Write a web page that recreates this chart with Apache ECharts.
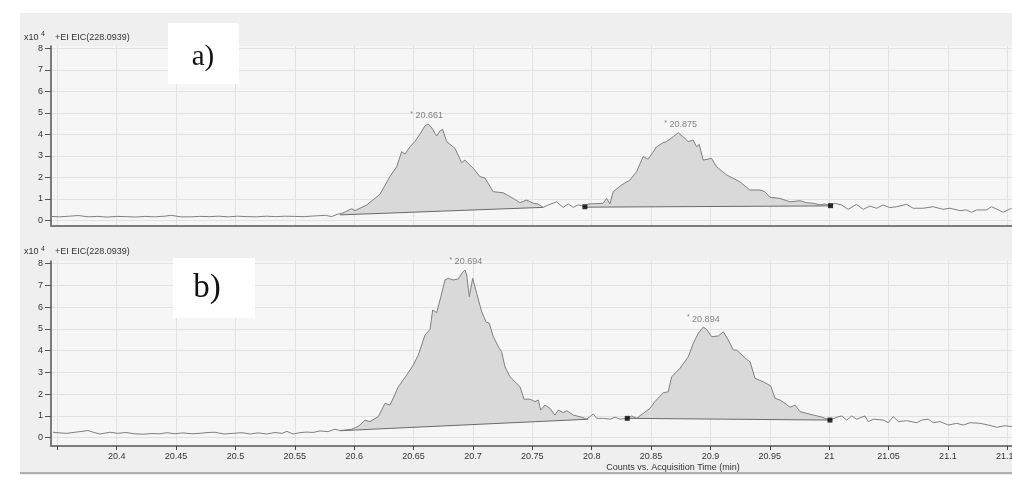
<!DOCTYPE html>
<html><head><meta charset="utf-8">
<script src="https://cdn.jsdelivr.net/npm/echarts@6/dist/echarts.min.js"></script>
<style>html,body{margin:0;padding:0;background:#fff;overflow:hidden}#c{width:1040px;height:481px}</style>
</head><body><div id="c"></div>
<script>
// ---------- data (counts in units of 10^4) ----------
const timesA = [
20.345,20.352,20.360,20.368,20.376,20.384,20.392,20.400,20.408,20.416,
20.424,20.432,20.440,20.446,20.454,20.462,20.470,20.478,20.486,20.494,
20.502,20.510,20.518,20.526,20.534,20.542,20.550,20.558,20.566,20.576,
20.581,20.586,
20.5906,20.5979,20.6007,20.6105,20.6217,20.6301,20.6358,20.6400,20.6428,20.6470,
20.6512,20.6554,20.6596,20.6624,20.6655,20.6694,20.6722,20.6745,20.6779,20.6849,
20.6905,20.6933,20.7003,20.7059,20.7101,20.7171,20.7255,20.7339,20.7396,20.7452,
20.7508,20.7547,20.7592,20.7634,20.7705,20.7760,20.7803,20.7845,20.7887,20.7943,
20.7971,20.8097,20.8126,20.8154,20.8181,20.8252,20.8322,20.8378,20.8434,20.8476,
20.8547,20.8602,20.8631,20.8687,20.8729,20.8785,20.8813,20.8855,20.8884,20.8906,
20.8939,20.9010,20.9052,20.9136,20.9248,20.9332,20.9417,20.9459,20.9501,20.9585,
20.9669,20.9754,20.9810,20.9866,20.9922,20.9964,21.0012,21.0048,21.0105,21.0160,
21.0231,21.0287,21.0343,21.0399,21.0455,21.0511,21.0568,21.0652,21.0708,21.0792,
21.0876,21.0961,21.1017,21.1101,21.1157,21.1199,21.1241,21.1326,21.1368,21.1438,
21.1465,21.1536];
const countsA = [
0.19,0.17,0.20,0.23,0.17,0.19,0.16,0.19,0.18,0.16,
0.19,0.17,0.20,0.24,0.17,0.17,0.19,0.18,0.20,0.17,
0.20,0.18,0.17,0.20,0.18,0.20,0.19,0.18,0.21,0.24,
0.18,0.29,
0.35,0.55,0.46,0.72,1.22,2.04,2.50,3.20,3.09,3.43,
3.67,4.02,4.40,4.49,4.30,3.93,4.16,4.24,3.67,3.36,
2.69,2.81,2.43,2.04,1.98,1.34,1.29,1.03,0.83,0.95,
0.80,0.77,0.61,0.72,0.87,0.61,0.77,0.61,0.73,0.64,
0.77,0.80,1.03,0.77,1.34,1.65,1.88,2.27,2.97,2.85,
3.43,3.62,3.67,3.90,4.08,3.82,3.67,3.74,3.43,3.54,
2.81,2.89,2.50,2.12,1.80,1.42,1.42,1.34,1.08,1.03,
0.87,0.92,0.83,0.80,0.73,0.77,0.69,0.80,0.72,0.52,
0.75,0.52,0.67,0.57,0.72,0.60,0.64,0.75,0.57,0.57,
0.64,0.52,0.57,0.46,0.49,0.38,0.49,0.49,0.64,0.46,
0.38,0.57];

const timesB = [
20.3464,20.3522,20.3581,20.3649,20.3708,20.3758,20.3809,20.3859,20.3944,20.4011,
20.4078,20.4146,20.4221,20.4297,20.4365,20.4424,20.4491,20.4558,20.4634,20.4702,
20.4769,20.4828,20.4904,20.4980,20.5055,20.5123,20.5190,20.5266,20.5333,20.5392,
20.5434,20.5485,20.5544,20.5603,20.5653,20.5712,20.5779,20.5838,20.5880,20.5922,
20.5979,20.6015,20.6049,20.6091,20.6133,20.6203,20.6260,20.6302,20.6372,20.6442,
20.6498,20.6540,20.6597,20.6639,20.6661,20.6695,20.6723,20.6765,20.6793,20.6835,
20.6877,20.6906,20.6933,20.6948,20.6970,20.6998,20.7032,20.7074,20.7110,20.7138,
20.7172,20.7222,20.7242,20.7270,20.7312,20.7397,20.7431,20.7481,20.7523,20.7551,
20.7571,20.7607,20.7649,20.7691,20.7719,20.7761,20.7790,20.7846,20.7916,20.7958,
20.8014,20.8043,20.8098,20.8155,20.8197,20.8239,20.8300,20.8337,20.8379,20.8435,
20.8491,20.8533,20.8603,20.8645,20.8674,20.8744,20.8814,20.8856,20.8898,20.8940,
20.8968,20.9011,20.9067,20.9109,20.9151,20.9193,20.9222,20.9250,20.9306,20.9334,
20.9376,20.9446,20.9508,20.9544,20.9586,20.9629,20.9671,20.9713,20.9755,20.9811,
20.9867,20.9923,20.9965,21.0007,21.0064,21.0106,21.0148,21.0190,21.0232,21.0302,
21.0330,21.0372,21.0456,21.0498,21.0540,21.0583,21.0653,21.0738,21.0780,21.0835,
21.0878,21.0934,21.1004,21.1074,21.1130,21.1187,21.1271,21.1341,21.1412,21.1481,
21.1540];
const countsB = [
0.25,0.22,0.20,0.25,0.29,0.33,0.24,0.17,0.25,0.20,
0.24,0.18,0.16,0.19,0.18,0.23,0.18,0.22,0.18,0.20,
0.24,0.25,0.17,0.20,0.23,0.17,0.22,0.17,0.24,0.20,
0.29,0.17,0.23,0.26,0.24,0.31,0.28,0.39,0.33,0.35,
0.39,0.47,0.58,0.81,0.74,0.97,1.58,1.50,2.34,2.88,
3.34,3.80,4.72,4.98,5.87,5.75,6.33,7.25,7.33,7.25,
7.30,7.56,7.71,7.48,6.48,7.33,6.64,5.79,5.33,5.26,
4.64,4.11,3.95,3.26,2.80,2.34,1.77,1.77,1.66,1.73,
1.27,1.50,1.35,1.04,1.27,1.15,1.24,1.04,0.94,0.85,
1.09,0.89,0.89,0.85,0.94,0.85,0.89,1.00,0.89,1.12,
1.35,1.66,2.07,2.11,2.80,3.19,3.72,4.34,4.80,5.08,
4.98,4.64,4.68,4.87,4.49,4.03,4.03,3.88,3.60,3.49,
2.73,2.57,2.38,1.81,1.73,1.58,1.40,1.50,1.20,1.12,
1.04,0.97,0.89,0.81,0.94,1.00,0.81,1.00,0.85,1.00,
0.74,0.85,0.81,0.69,0.97,0.74,0.78,0.69,0.81,0.85,
0.69,0.74,0.58,0.66,0.58,0.69,0.66,0.58,0.48,0.55,
0.51];

// integration regions: [startTime, startBaseline, endTime, endBaseline]
const integA = [[20.588, 0.26, 20.7592, 0.61], [20.7943, 0.62, 21.0012, 0.68]];
const integB = [[20.588, 0.32, 20.7972, 0.85], [20.8300, 0.89, 21.0007, 0.81]];
// integration end markers
const markersA = [[20.7943, 0.64], [21.0012, 0.69]];
const markersB = [[20.8300, 0.89], [21.0007, 0.81]];
// labelled peak apexes: retention time, height
const peakTimesA = [20.661, 20.875];
const peakHeightsA = [4.49, 4.08];
const peakTimesB = [20.694, 20.894];
const peakHeightsB = [7.71, 5.08];

// axis ticks
const xTickValues = [20.35,20.4,20.45,20.5,20.55,20.6,20.65,20.7,20.75,20.8,20.85,20.9,20.95,21,21.05,21.1,21.15];
const xLabelValues = [20.4,20.45,20.5,20.55,20.6,20.65,20.7,20.75,20.8,20.85,20.9,20.95,21,21.05,21.1,21.15];
const yTickValues = [0,1,2,3,4,5,6,7,8];
const headerText = '+EI EIC(228.0939)';
const xAxisTitle = 'Counts vs. Acquisition Time (min)';

// ---------- chart ----------
const FONT = 'Liberation Sans';
const xMin = 20.3447, xMax = 21.154;
const pairs = (ts, vs) => ts.map((t, i) => [t, vs[i]]);

function makeFill(ts, vs) {
  return function (params, api) {
    const s = api.value(0), sv = api.value(1), e = api.value(2), ev = api.value(3);
    const pts = [api.coord([s, sv])];
    ts.forEach((t, i) => { if (t >= s && t <= e) pts.push(api.coord([t, vs[i]])); });
    pts.push(api.coord([e, ev]));
    const a = pts[0], b = pts[pts.length - 1];
    return {type: 'group', children: [
      {type: 'polygon', shape: {points: pts}, style: {fill: '#d9d9d9', stroke: null}},
      {type: 'line', shape: {x1: a[0], y1: a[1], x2: b[0], y2: b[1]}, style: {stroke: '#6a6a6a', lineWidth: 1}}
    ]};
  };
}

function xAxisFor(idx, withLabels) {
  return {
    gridIndex: idx, type: 'value', min: xMin, max: xMax,
    axisLine: {show: true, onZero: false, lineStyle: {color: '#7c7c7c', width: 2}},
    axisTick: {show: withLabels, length: 4, customValues: xTickValues, lineStyle: {color: '#444'}},
    axisLabel: {show: withLabels, customValues: xLabelValues, fontSize: 9, color: '#333', margin: 6, fontFamily: FONT,
      showMinLabel: true, showMaxLabel: true, hideOverlap: false},
    splitLine: {show: true, lineStyle: {color: '#e2e2e2', width: 1}}
  };
}
function yAxisFor(idx, min, max) {
  return {
    gridIndex: idx, type: 'value', min: min, max: max,
    axisLine: {show: true, onZero: false, lineStyle: {color: '#555', width: 1.5}},
    axisTick: {show: true, length: 6, customValues: yTickValues, lineStyle: {color: '#555'}},
    axisLabel: {customValues: yTickValues, fontSize: 9, color: '#333', margin: 8, fontFamily: FONT},
    splitLine: {show: true, lineStyle: {color: '#e2e2e2', width: 1}}
  };
}
function seriesFor(idx, ts, vs, integ, markers, pT, pH) {
  return [
    {type: 'custom', xAxisIndex: idx, yAxisIndex: idx, data: integ, encode: {x: [0, 2], y: [1, 3]},
     renderItem: makeFill(ts, vs), z: 1, silent: true},
    {type: 'line', xAxisIndex: idx, yAxisIndex: idx, data: pairs(ts, vs), showSymbol: false,
     lineStyle: {color: '#808080', width: 1}, z: 2, silent: true},
    {type: 'scatter', xAxisIndex: idx, yAxisIndex: idx, data: markers, symbol: 'rect', symbolSize: 5,
     itemStyle: {color: '#000'}, z: 3, silent: true},
    {type: 'scatter', xAxisIndex: idx, yAxisIndex: idx, data: pairs(pT, pH), symbolSize: 1,
     itemStyle: {color: 'rgba(0,0,0,0)'}, z: 3, silent: true,
     label: {show: true, position: 'top', distance: 2, fontSize: 9, color: '#666', fontFamily: FONT,
       formatter: p => '{s|*} ' + p.value[0].toFixed(3),
       rich: {s: {fontSize: 7, color: '#666', padding: [0, 0, 4, 0]}}}}
  ];
}

function header(y) {
  return [
    {type: 'text', x: 24, y: y, style: {text: 'x10', fontSize: 9, fontFamily: FONT, fill: '#333', align: 'left', verticalAlign: 'middle'}},
    {type: 'text', x: 41, y: y - 3, style: {text: '4', fontSize: 7, fontFamily: FONT, fill: '#333', align: 'left', verticalAlign: 'middle'}},
    {type: 'text', x: 55, y: y, style: {text: headerText, fontSize: 9, fontFamily: FONT, fill: '#333', align: 'left', verticalAlign: 'middle'}}
  ];
}

const option = {
  backgroundColor: '#ffffff',
  animation: false,
  textStyle: {fontFamily: FONT},
  grid: [
    {left: 51, top: 46, right: 28, height: 180, show: true, backgroundColor: '#f6f6f6', borderWidth: 0},
    {left: 51, top: 261, right: 28, height: 185, show: true, backgroundColor: '#f6f6f6', borderWidth: 0}
  ],
  xAxis: [xAxisFor(0, false), xAxisFor(1, true)],
  yAxis: [yAxisFor(0, -0.256, 8.116), yAxisFor(1, -0.382, 8.124)],
  series: [].concat(
    seriesFor(0, timesA, countsA, integA, markersA, peakTimesA, peakHeightsA),
    seriesFor(1, timesB, countsB, integB, markersB, peakTimesB, peakHeightsB)
  ),
  graphic: [
    {type: 'rect', z: -10, shape: {x: 20, y: 13, width: 1020, height: 462}, style: {fill: '#efefef'}},
    {type: 'line', z: -9, shape: {x1: 20, y1: 473, x2: 1040, y2: 473}, style: {stroke: '#9a9a9a', lineWidth: 1.5}},
    ...header(37.5),
    ...header(252),
    {type: 'rect', z: 100, shape: {x: 168, y: 23, width: 71, height: 61}, style: {fill: '#ffffff'}},
    {type: 'text', z: 101, x: 203, y: 57, style: {text: 'a)', fontSize: 29, fontFamily: 'Liberation Serif', fill: '#111', align: 'center', verticalAlign: 'middle'}},
    {type: 'rect', z: 100, shape: {x: 173, y: 258, width: 82, height: 60}, style: {fill: '#ffffff'}},
    {type: 'text', z: 101, x: 207, y: 288, style: {text: 'b)', fontSize: 33, fontFamily: 'Liberation Serif', fill: '#111', align: 'center', verticalAlign: 'middle'}},
    {type: 'text', x: 673, y: 467.5, style: {text: xAxisTitle, fontSize: 9, fontFamily: FONT, fill: '#333', align: 'center', verticalAlign: 'middle'}}
  ]
};
const chart = echarts.init(document.getElementById('c'));
chart.setOption(option);
</script>
</body></html>
